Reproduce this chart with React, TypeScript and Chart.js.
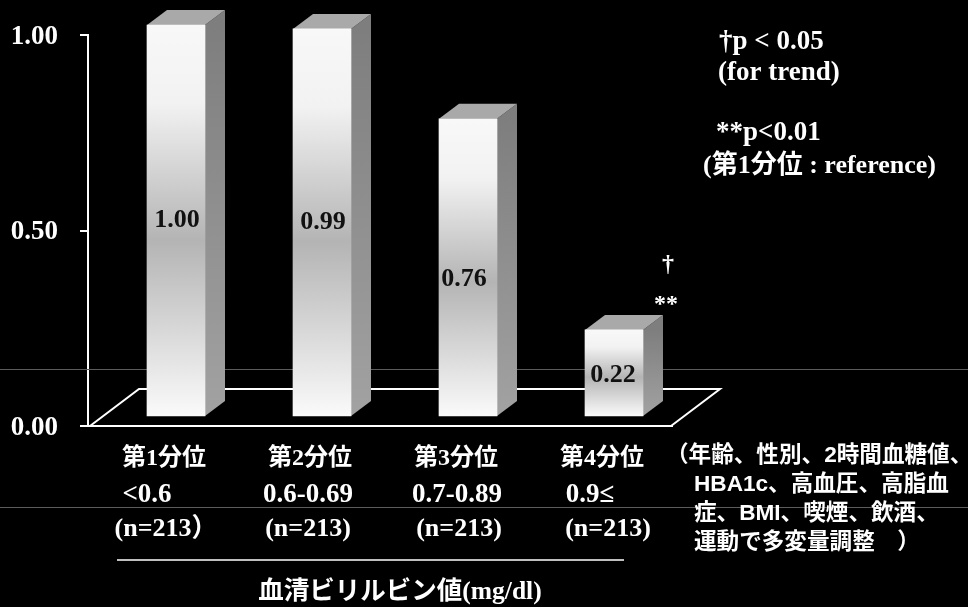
import React, { useEffect, useRef } from "react";
import { Chart, registerables } from "chart.js";

Chart.register(...registerables);

// Adjusted ratio per bilirubin quartile
const quartiles = ["第1分位", "第2分位", "第3分位", "第4分位"];
const ranges = ["<0.6", "0.6-0.69", "0.7-0.89", "0.9≤"];
const counts = ["(n=213）", "(n=213)", "(n=213)", "(n=213)"];
const ratios = [1.0, 0.99, 0.76, 0.22];
const yTicks = [0, 0.5, 1];

const axisTitle = "血清ビリルビン値(mg/dl)";
const pNotes = ["†p < 0.05", "(for trend)", "**p<0.01", "(第1分位 : reference)"];
const adjustNotes = [
  "（年齢、性別、2時間血糖値、",
  "HBA1c、高血圧、高脂血",
  "症、BMI、喫煙、飲酒、",
  "運動で多変量調整　）",
];

const SERIF = '"Liberation Serif","Noto Sans CJK JP",serif';
const SANS = '"Liberation Sans","Noto Sans CJK JP",sans-serif';

// Oblique projection of the pseudo-3D bars and floor
const DEPTH_X = 20;
const DEPTH_Y = 15;
const SHIFT_X = 15 / 146;
const SHIFT_Y = 10 / 390;

const frontGradient = (c: any) => {
  const { chart, raw } = c;
  if (!raw) return "#ddd";
  const yb = chart.scales.yb;
  const top = yb.getPixelForValue(raw.y);
  const base = yb.getPixelForValue(0);
  // Scales have no pixel range until the first layout has run
  if (!Number.isFinite(top) || !Number.isFinite(base)) return "#ddd";
  const g = chart.ctx.createLinearGradient(0, top, 0, base);
  g.addColorStop(0, "#f8f8f8");
  g.addColorStop(0.2, "#f2f2f2");
  g.addColorStop(0.55, "#b4b4b4");
  g.addColorStop(1, "#fafafa");
  return g;
};

const sceneryPlugin = {
  id: "scenery",
  beforeDatasetsDraw(chart: any) {
    const { ctx, scales } = chart;
    const floorY = scales.y.getPixelForValue(0);
    const left = scales.y.right;
    const right = scales.x.right;
    const backY = floorY - 37;

    // Faint scan lines across the slide
    ctx.save();
    ctx.strokeStyle = "#5c5c5c";
    ctx.lineWidth = 1;
    [369.5, 507.5].forEach((y) => {
      ctx.beginPath();
      ctx.moveTo(0, y);
      ctx.lineTo(chart.width, y);
      ctx.stroke();
    });

    // Floor outline behind the bars
    ctx.strokeStyle = "#fff";
    ctx.lineWidth = 2;
    ctx.beginPath();
    ctx.moveTo(left + 2, floorY);
    ctx.lineTo(left + 51, backY);
    ctx.lineTo(right + 48, backY);
    ctx.lineTo(right - 1, floorY);
    ctx.stroke();

    // Side and top faces of each bar
    chart.getDatasetMeta(0).data.forEach((bar: any) => {
      const { x, y, base, width } = bar.getProps(["x", "y", "base", "width"], true);
      const r = x + width / 2;
      const l = x - width / 2;
      const side = ctx.createLinearGradient(0, y, 0, base);
      side.addColorStop(0, "#7e7e7e");
      side.addColorStop(1, "#a2a2a2");
      ctx.fillStyle = side;
      ctx.beginPath();
      ctx.moveTo(r, y);
      ctx.lineTo(r + DEPTH_X, y - DEPTH_Y);
      ctx.lineTo(r + DEPTH_X, base - DEPTH_Y);
      ctx.lineTo(r, base);
      ctx.closePath();
      ctx.fill();
      ctx.fillStyle = "#a9a9a9";
      ctx.beginPath();
      ctx.moveTo(l, y);
      ctx.lineTo(l + DEPTH_X, y - DEPTH_Y);
      ctx.lineTo(r + DEPTH_X, y - DEPTH_Y);
      ctx.lineTo(r, y);
      ctx.closePath();
      ctx.fill();
    });
    ctx.restore();
  },
  afterDatasetsDraw(chart: any) {
    const { ctx, scales } = chart;
    const bars = chart.getDatasetMeta(0).data;
    const xScale = scales.x;
    const text = (s: string, x: number, y: number, font: string, align: CanvasTextAlign = "center", color = "#fff") => {
      ctx.font = font;
      ctx.textAlign = align;
      ctx.fillStyle = color;
      ctx.fillText(s, x, y);
    };
    ctx.save();
    ctx.textBaseline = "middle";

    // Value printed on each bar
    const valueDrop = [0, 0, 12, 2];
    const valueSlide = [1, 1, -4, -1];
    bars.forEach((bar: any, i: number) => {
      const { x, y, base } = bar.getProps(["x", "y", "base"], true);
      text(ratios[i].toFixed(2), x + valueSlide[i], (y + base) / 2 + valueDrop[i], `bold 26px ${SERIF}`, "center", "#111");
    });

    // Second and third rows under each quartile
    const rangeNudge = [-14, 1, 4, -9];
    const countNudge = [5, 1, 6, 9];
    quartiles.forEach((_, i) => {
      const x = xScale.getPixelForTick(i);
      text(ranges[i], x + rangeNudge[i], 495, `bold 27px ${SERIF}`);
      text(counts[i], x + countNudge[i], 529, `bold 26px ${SERIF}`);
    });

    // Rule and title under the category rows
    ctx.strokeStyle = "#fff";
    ctx.lineWidth = 1.5;
    ctx.beginPath();
    ctx.moveTo(117, 560);
    ctx.lineTo(624, 560);
    ctx.stroke();
    text(axisTitle, 400, 592, `bold 25.5px ${SERIF}`);

    // Significance markers beside the last bar
    text("†", 668, 265, `bold 24px ${SERIF}`);
    text("**", 666, 305, `bold 24px ${SERIF}`);

    // Significance notes
    text(pNotes[0], 719, 42, `bold 27px ${SERIF}`, "left");
    text(pNotes[1], 718, 73, `bold 27px ${SERIF}`, "left");
    text(pNotes[2], 716, 133, `bold 27px ${SERIF}`, "left");
    text(pNotes[3], 703, 166, `bold 26px ${SERIF}`, "left");

    // Covariates used for the adjustment
    const noteFont = `bold 22.6px ${SANS}`;
    text(adjustNotes[0], 666, 456, noteFont, "left");
    text(adjustNotes[1], 694, 485, noteFont, "left");
    text(adjustNotes[2], 694, 514, noteFont, "left");
    text(adjustNotes[3], 694, 543, noteFont, "left");
    ctx.restore();
  },
};

export default function App() {
  const ref = useRef<HTMLCanvasElement>(null);

  useEffect(() => {
    if (!ref.current) return;
    const chart = new Chart(ref.current, {
      type: "bar",
      data: {
        labels: quartiles,
        datasets: [
          {
            data: ratios.map((y, x) => ({ x, y })),
            xAxisID: "xb",
            yAxisID: "yb",
            barThickness: 58,
            borderWidth: 0,
            backgroundColor: frontGradient,
            clip: false,
          } as any,
        ],
      },
      options: {
        responsive: false,
        animation: false,
        layout: { autoPadding: false, padding: { left: 0, right: 296, top: 35, bottom: 0 } },
        plugins: { legend: { display: false }, tooltip: { enabled: false } },
        scales: {
          x: {
            type: "category",
            position: "bottom",
            afterFit: (s: any) => { s.height = 181; },
            grid: { display: false, drawTicks: false },
            border: { display: true, color: "#fff", width: 2 },
            ticks: {
              color: "#fff",
              maxRotation: 0,
              autoSkip: false,
              padding: 18,
              labelOffset: 3,
              font: { family: SERIF, size: 24, weight: "bold" },
            },
          },
          y: {
            type: "linear",
            position: "left",
            min: 0,
            max: 1,
            // Tick padding would otherwise push the plot's top edge down
            afterFit: (s: any) => {
              s.width = 88;
              s.paddingTop = 0;
              s.paddingBottom = 0;
            },
            afterBuildTicks: (s: any) => { s.ticks = yTicks.map((value) => ({ value })); },
            grid: { drawOnChartArea: false, drawTicks: true, tickLength: 8, color: "#fff", lineWidth: 2 },
            border: { display: true, color: "#fff", width: 2 },
            ticks: {
              color: "#fff",
              padding: 22,
              labelOffset: 2,
              callback: (v: any) => Number(v).toFixed(2),
              font: { family: SERIF, size: 27, weight: "bold" },
            },
          },
          // The bars stand forward of the axis plane, so they use shifted scales
          xb: { type: "linear", axis: "x", display: false, offset: false, min: -0.5 - SHIFT_X, max: 3.5 - SHIFT_X },
          yb: { type: "linear", axis: "y", display: false, min: -SHIFT_Y, max: 1 - SHIFT_Y },
        },
      } as any,
      plugins: [sceneryPlugin],
    });
    return () => chart.destroy();
  }, []);

  return (
    <div style={{ position: "fixed", left: 0, top: 0, width: 968, height: 607, background: "#000" }}>
      <canvas ref={ref} width={968} height={607} style={{ display: "block" }} />
    </div>
  );
}
